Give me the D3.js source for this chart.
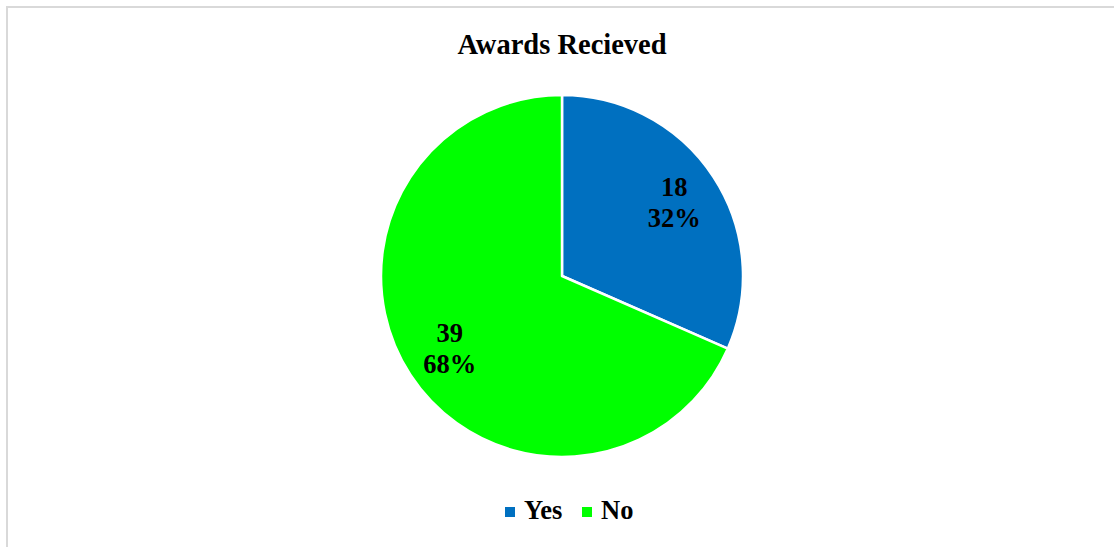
<!DOCTYPE html>
<html>
<head>
<meta charset="utf-8">
<script src="https://cdn.jsdelivr.net/npm/d3@7"></script>
<style>
  html, body { margin: 0; padding: 0; background: #fff; }
  svg { display: block; }
  text { font-family: "Liberation Serif", "Times New Roman", serif; font-weight: bold; fill: #000; }
</style>
</head>
<body>
<svg id="chart" width="1114" height="547"></svg>
<script>
// Survey answers: were awards received?
const categories = ["Yes", "No"];
const counts = [18, 39];
const colors = ["#0070C0", "#00FF00"];
const chartTitle = "Awards Recieved";

const svg = d3.select("#chart");
const W = 1114, H = 547;

// chart frame (top and left edges visible)
svg.append("line").attr("x1", 6).attr("x2", W).attr("y1", 7).attr("y2", 7)
  .attr("stroke", "#d9d9d9").attr("stroke-width", 2);
svg.append("line").attr("x1", 7).attr("x2", 7).attr("y1", 6).attr("y2", H)
  .attr("stroke", "#d9d9d9").attr("stroke-width", 2);

// title
svg.append("text")
  .attr("x", 562).attr("y", 54)
  .attr("text-anchor", "middle")
  .style("font-size", "28.5px")
  .text(chartTitle);

const cx = 562, cy = 276, r = 181;
const data = categories.map((c, i) => ({ category: c, value: counts[i], color: colors[i] }));
const total = d3.sum(counts);

const pie = d3.pie().value(d => d.value).sort(null);
const arc = d3.arc().innerRadius(0).outerRadius(r);
const labelArc = d3.arc().innerRadius(r * 0.74).outerRadius(r * 0.74);

const g = svg.append("g").attr("transform", `translate(${cx},${cy})`);
const arcs = pie(data);

g.selectAll("path.slice")
  .data(arcs)
  .join("path")
  .attr("class", "slice")
  .attr("d", arc)
  .attr("fill", d => d.data.color)
  .attr("stroke", "#fff")
  .attr("stroke-width", 2.5)
  .attr("stroke-linejoin", "round");

const fmtPct = v => Math.round(v / total * 100) + "%";

const labels = g.selectAll("g.label")
  .data(arcs)
  .join("g")
  .attr("class", "label")
  .attr("transform", d => `translate(${labelArc.centroid(d)})`);

labels.append("text")
  .attr("text-anchor", "middle")
  .attr("y", -7)
  .style("font-size", "26.5px")
  .text(d => d.data.value);

labels.append("text")
  .attr("text-anchor", "middle")
  .attr("y", 24)
  .style("font-size", "26.5px")
  .text(d => fmtPct(d.data.value));

// legend
const legendX = [505, 582];
const legend = svg.append("g");
categories.forEach((c, i) => {
  legend.append("rect")
    .attr("x", legendX[i]).attr("y", 507)
    .attr("width", 10).attr("height", 10)
    .attr("fill", colors[i]);
  legend.append("text")
    .attr("x", legendX[i] + 19).attr("y", 519)
    .style("font-size", "26.5px")
    .text(c);
});
</script>
</body>
</html>
